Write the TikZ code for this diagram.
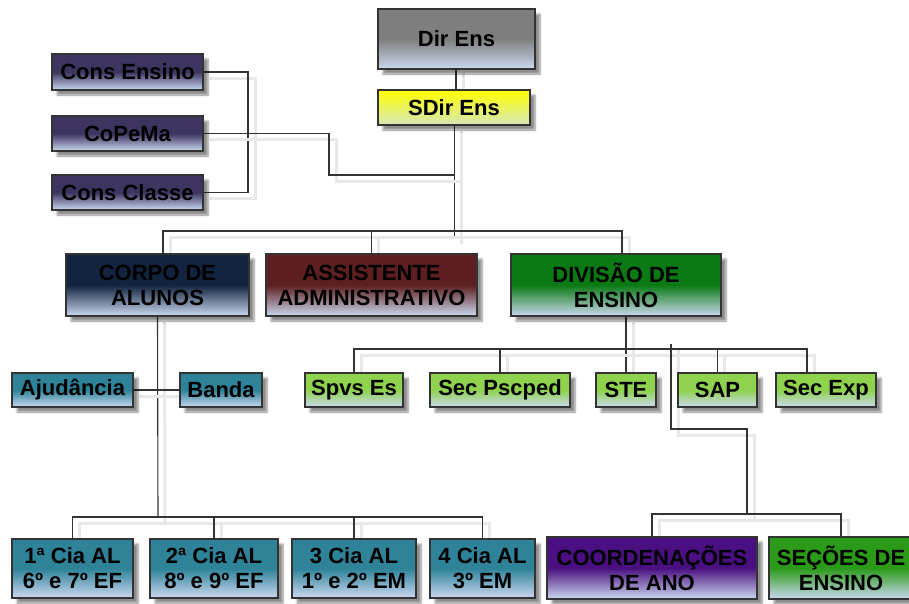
\documentclass[tikz,border=0pt]{standalone}
\usepackage{fontspec}
\setmainfont{Liberation Sans}
\usetikzlibrary{shadows.blur}

\definecolor{edge}{HTML}{333333}
\definecolor{paleblue}{HTML}{CBD8F0}
\definecolor{cGray}{HTML}{7E7E7E}
\definecolor{cYellow}{HTML}{FFFF00}
\definecolor{cYellowLow}{HTML}{D6E6B8}
\definecolor{cViolet}{HTML}{3D3560}
\definecolor{cNavy}{HTML}{12243F}
\definecolor{cWine}{HTML}{5E1F20}
\definecolor{cGreen}{HTML}{0B7A14}
\definecolor{cTeal}{HTML}{2E8399}
\definecolor{cLime}{HTML}{8ED24E}
\definecolor{cPurple}{HTML}{4A0F80}
\definecolor{cLeaf}{HTML}{2A9A18}

\tikzset{
  orgbox/.style={draw=edge, line width=1.1pt, inner sep=0pt, align=center,
    font=\bfseries\fontsize{22}{25}\selectfont,
    top color=#1, bottom color=paleblue, middle color=#1,
    blur shadow={shadow xshift=5pt, shadow yshift=-5pt,
      shadow blur steps=6, shadow opacity=45}},
  wire/.style={draw=edge, line width=1.1pt},
  wireshade/.style={draw=black!9, line width=3pt,
    transform canvas={xshift=7pt, yshift=-6pt}},
}
% each connector gets a soft offset shadow under it
\newcommand\conn[1]{\draw[wireshade] #1; \draw[wire] #1;}

\begin{document}
\begin{tikzpicture}[x=1pt, y=-1pt]
\useasboundingbox (0,0) rectangle (909,603);

% ---- named junction points of the connector trees
\coordinate (busTop)  at (455,231);
\coordinate (trunkEnd) at (454.5,238);
\coordinate (consBar) at (248,130);
\coordinate (cpmBend) at (329,175);
\coordinate (busCia)  at (158,517);
\coordinate (busDiv)  at (626,349);
\coordinate (coordTop) at (671,344);
\coordinate (coordBend) at (747,429);
\coordinate (busCoord) at (747,514);

% ---- connectors (drawn first, boxes cover their ends)
\begin{scope}
\clip (0,0) rectangle (909,603);
\conn{(456,66) -- (456,90)}
\conn{(454.5,125) -- (trunkEnd)}
\conn{(163,254) |- (busTop) -- (622,231) -- (622,254)}
\conn{(371.5,231) -- (371.5,254)}
\conn{(203,72) -| (consBar) |- (203,192.5)}
\conn{(203,133.5) -| (cpmBend) -- (cpmBend -| trunkEnd)}
\conn{(157.5,316) -- (busCia)}
\conn{(133,390) -- (180,390)}
\conn{(72.5,539) |- (busCia) -- (482.5,517) -- (482.5,539)}
\conn{(214,517) -- (214,539)}
\conn{(354,517) -- (354,539)}
\conn{(626,316) -- (626,373)}
\conn{(354,373) |- (busDiv) -- (807,349) -- (807,373)}
\conn{(500,349) -- (500,373)}
\conn{(717.5,349) -- (717.5,373)}
\conn{(coordTop) |- (coordBend) -- (busCoord)}
\conn{(652,537) |- (busCoord) -- (841,514) -- (841,537)}
\end{scope}

% ---- boxes
\node[orgbox=cGray, minimum width=157pt, minimum height=60pt] (dir) at (456.5,39) {Dir Ens};
\node[orgbox=cYellow, bottom color=cYellowLow, minimum width=152pt, minimum height=35pt] (sdir) at (454,107.5) {SDir Ens};

\node[orgbox=cViolet, minimum width=151pt, minimum height=36pt] (consens) at (127.5,72) {Cons Ensino};
\node[orgbox=cViolet, minimum width=151pt, minimum height=35pt] (copema) at (127.5,133.5) {CoPeMa};
\node[orgbox=cViolet, minimum width=151pt, minimum height=35pt] (conscl) at (127.5,192.5) {Cons Classe};

\node[orgbox=cNavy, minimum width=183pt, minimum height=62pt] (corpo) at (157.5,285) {CORPO DE\\ALUNOS};
\node[orgbox=cWine, minimum width=211pt, minimum height=62pt] (assist) at (371.5,285) {ASSISTENTE\\ADMINISTRATIVO};
\node[orgbox=cGreen, minimum width=210pt, minimum height=62pt] (div) at (616,285) {DIVISÃO DE\\ENSINO};

\node[orgbox=cTeal, minimum width=121pt, minimum height=34pt] (ajud) at (72.5,390) {Ajudância};
\node[orgbox=cTeal, minimum width=82pt, minimum height=34pt] (banda) at (221,390) {Banda};

\node[orgbox=cLime, minimum width=98pt, minimum height=34pt] (spvs) at (354,390) {Spvs Es};
\node[orgbox=cLime, minimum width=140pt, minimum height=34pt] (secpsc) at (500,390) {Sec Pscped};
\node[orgbox=cLime, minimum width=60pt, minimum height=34pt] (ste) at (626,390) {STE};
\node[orgbox=cLime, minimum width=79pt, minimum height=34pt] (sap) at (717.5,390) {SAP};
\node[orgbox=cLime, minimum width=100pt, minimum height=34pt] (secexp) at (826,390) {Sec Exp};

\node[orgbox=cTeal, minimum width=121pt, minimum height=59pt] (cia1) at (72.5,568.5) {1ª Cia AL\\6º e 7º EF};
\node[orgbox=cTeal, minimum width=128pt, minimum height=59pt] (cia2) at (214,568.5) {2ª Cia AL\\8º e 9º EF};
\node[orgbox=cTeal, minimum width=124pt, minimum height=59pt] (cia3) at (354,568.5) {3 Cia AL\\1º e 2º EM};
\node[orgbox=cTeal, minimum width=105pt, minimum height=59pt] (cia4) at (482.5,568.5) {4 Cia AL\\3º EM};

\node[orgbox=cPurple, minimum width=210pt, minimum height=62pt] (coord) at (652,568) {COORDENAÇÕES\\DE ANO};
\node[orgbox=cLeaf, minimum width=144pt, minimum height=62pt] (secoes) at (841,568) {SEÇÕES DE\\ENSINO};
\end{tikzpicture}
\end{document}
